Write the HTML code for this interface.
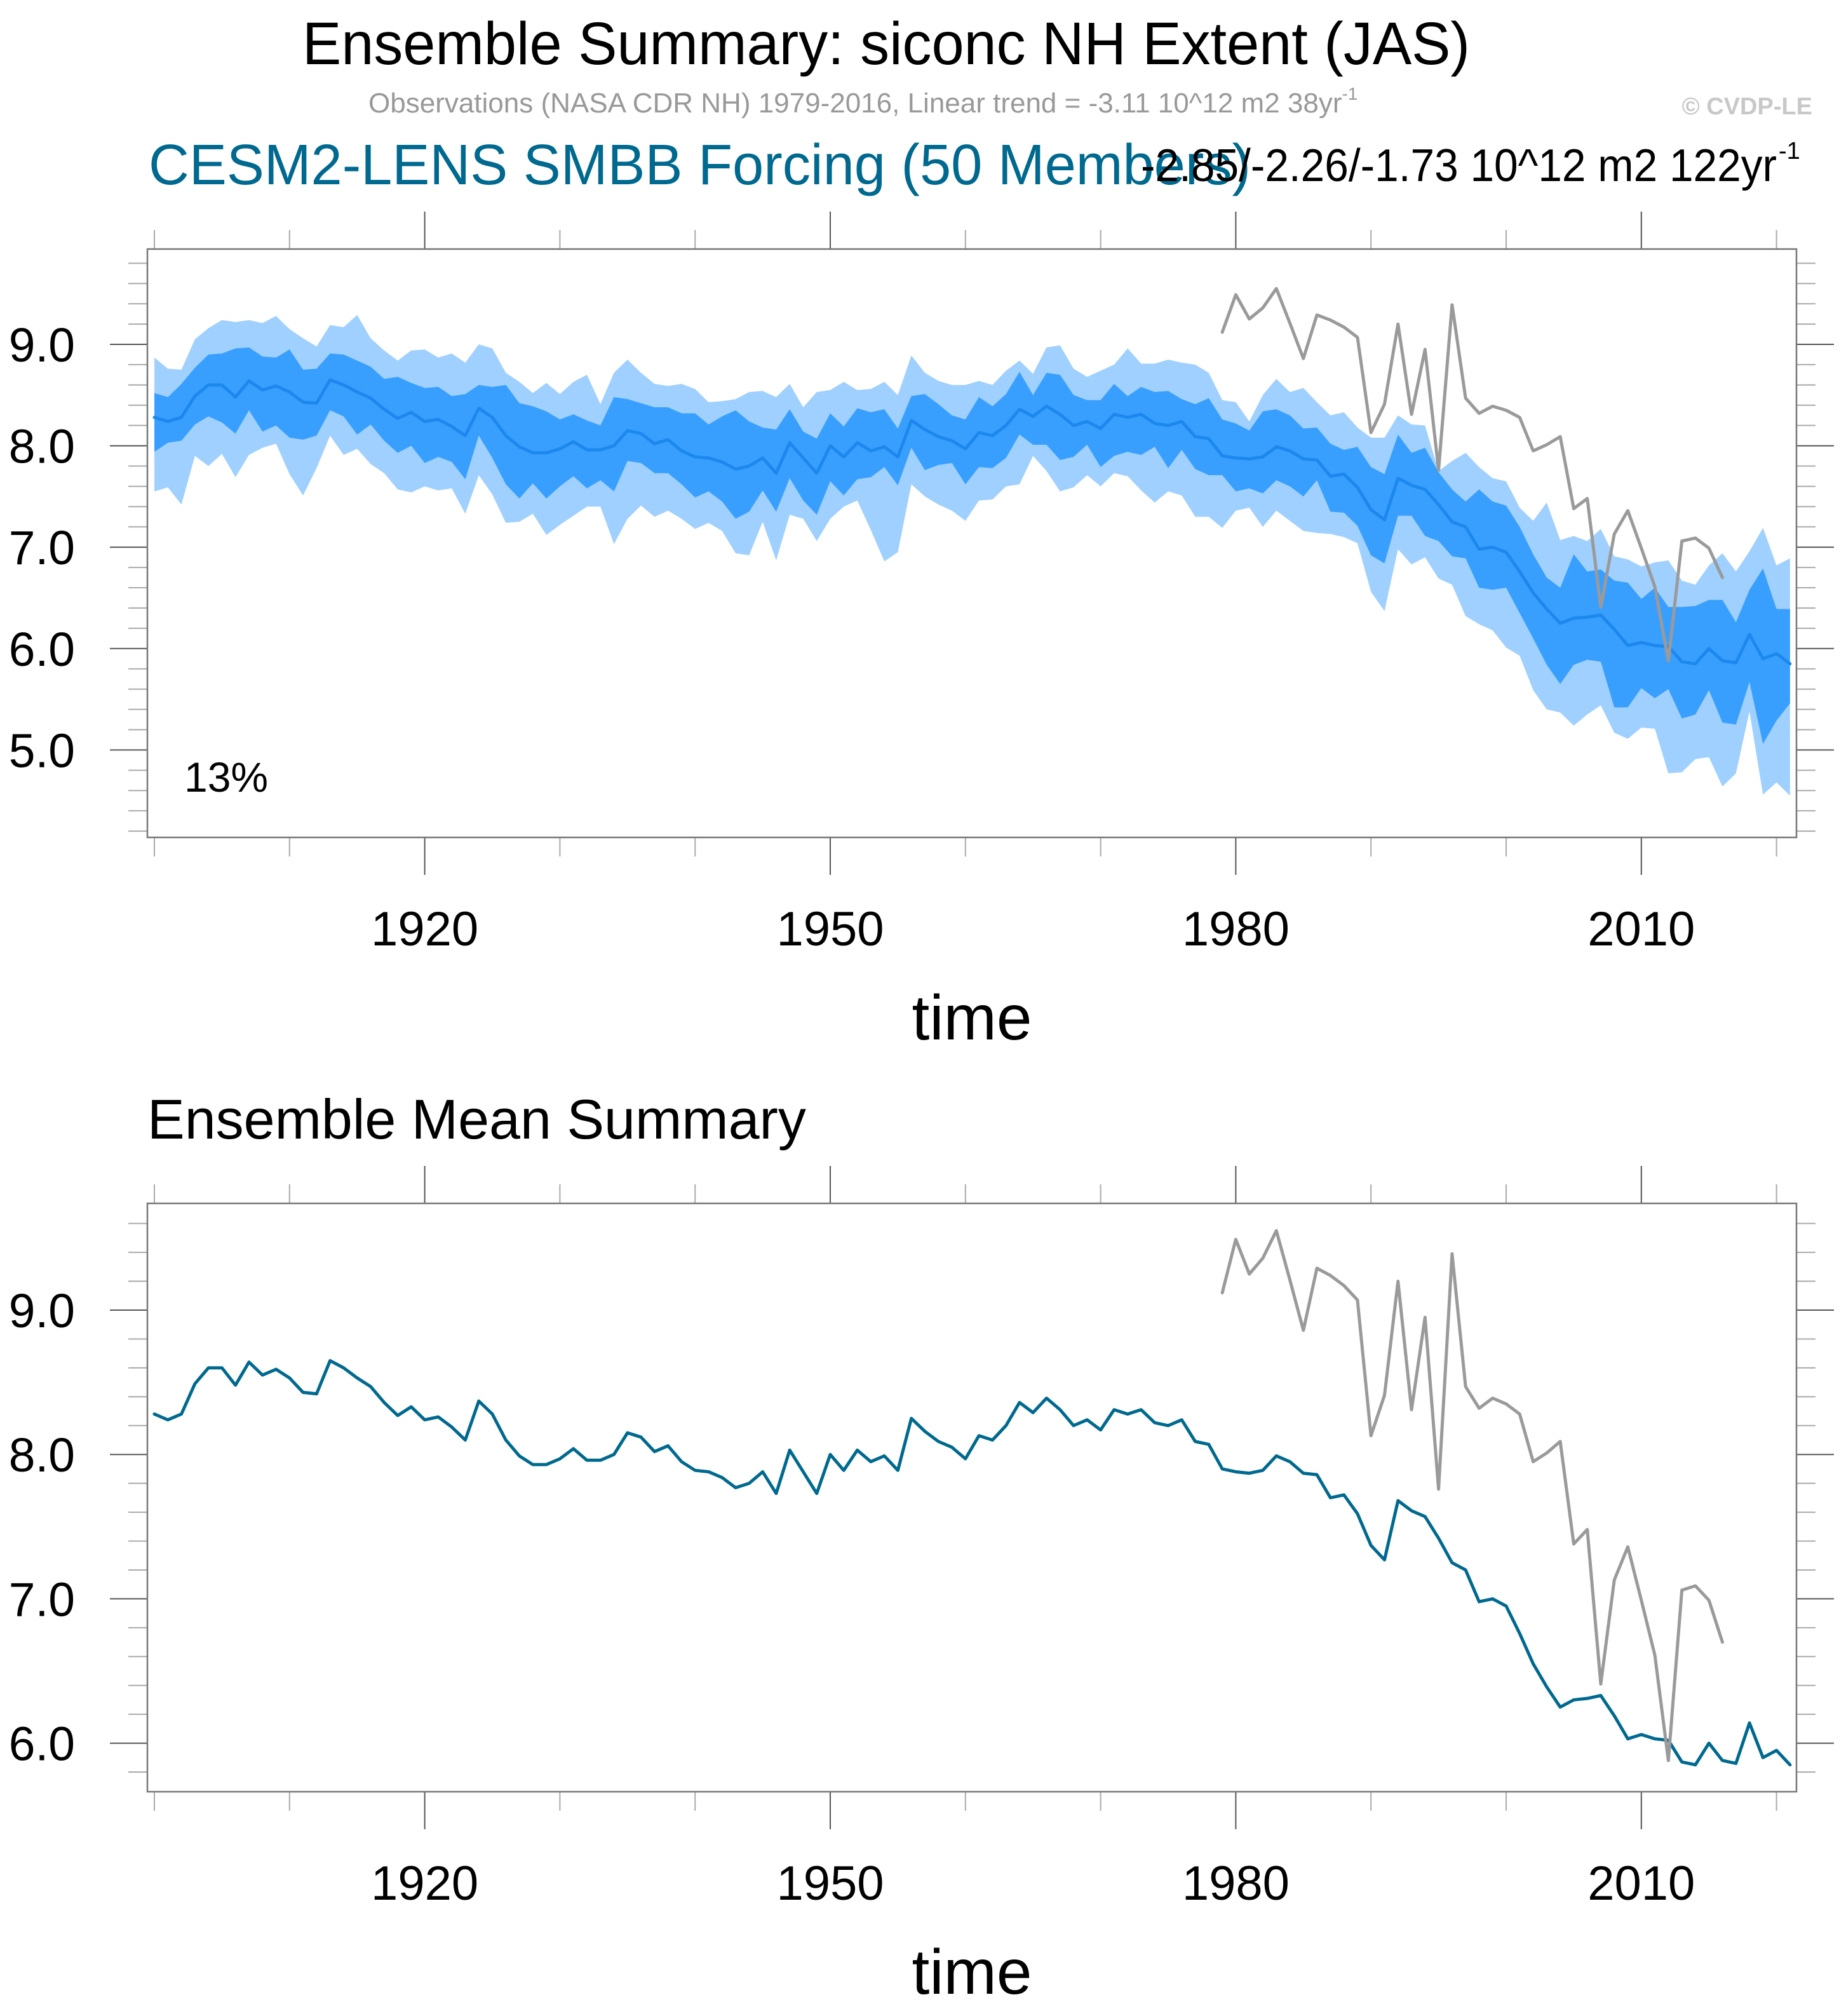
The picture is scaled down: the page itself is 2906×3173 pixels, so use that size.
<!DOCTYPE html>
<html><head><meta charset="utf-8">
<style>html,body{margin:0;padding:0;background:#fff}svg{display:block}</style>
</head><body>
<svg id="chart" xmlns="http://www.w3.org/2000/svg" width="2906" height="3173" viewBox="0 0 2906 3173" font-family="Liberation Sans, Arial, sans-serif">
<rect width="2906" height="3173" fill="#fff"/>
<text x="1395" y="101" font-size="95" text-anchor="middle" textLength="1838" lengthAdjust="spacingAndGlyphs">Ensemble Summary: siconc NH Extent (JAS)</text>
<text x="580" y="177" font-size="44" fill="#999">Observations (NASA CDR NH) 1979-2016, Linear trend = -3.11 10^12 m2 38yr<tspan dy="-20" font-size="28">-1</tspan></text>
<text x="2853" y="180" font-size="38" font-weight="bold" fill="#c8c8c8" text-anchor="end">© CVDP-LE</text>
<text x="234" y="290" font-size="90" fill="#00698f" textLength="1735" lengthAdjust="spacingAndGlyphs">CESM2-LENS SMBB Forcing (50 Members)</text>
<text x="1796" y="285" font-size="72" textLength="1001" lengthAdjust="spacingAndGlyphs">-2.85/-2.26/-1.73 10^12 m2 122yr</text>
<text x="2800" y="250" font-size="38">-1</text>
<text x="232" y="1792" font-size="88">Ensemble Mean Summary</text>
<g id="top"></g>
<g id="bot"></g>
</svg>
<script>
const years0 = 1900;
const hiOuter = [8.87,8.76,8.75,9.05,9.16,9.24,9.22,9.24,9.21,9.28,9.15,9.06,8.98,9.19,9.17,9.29,9.06,8.94,8.84,8.94,8.95,8.87,
8.91,8.82,9.00,8.96,8.72,8.63,8.52,8.62,8.51,8.63,8.70,8.41,8.72,8.85,8.72,8.61,8.59,8.61,8.56,8.43,8.44,8.46,8.53,8.54,8.48,8.61,8.38,8.53,8.55,8.63,
8.55,8.56,8.63,8.50,8.89,8.72,8.64,8.60,8.60,8.64,8.60,8.74,8.84,8.71,8.97,8.99,8.76,8.68,8.74,8.80,8.96,8.81,8.81,8.85,
8.82,8.80,8.72,8.45,8.43,8.24,8.50,8.66,8.53,8.57,8.43,8.30,8.33,8.18,8.08,8.08,8.30,8.21,8.20,7.75,7.85,7.93,7.79,7.68,7.65,7.39,7.26,7.44,7.07,7.11,7.06,7.18,6.91,6.88,6.81,6.85,6.87,6.67,6.63,6.82,6.94,6.76,6.96,7.19,6.82,6.89];
const hiInner = [8.52,8.48,8.61,8.77,8.90,8.91,8.96,8.97,8.88,8.87,8.95,8.75,8.76,8.91,8.90,8.84,8.78,8.66,8.68,8.62,8.57,8.58,
8.49,8.51,8.60,8.58,8.60,8.42,8.39,8.34,8.26,8.31,8.25,8.20,8.48,8.46,8.42,8.38,8.38,8.32,8.32,8.21,8.29,8.35,8.24,8.18,8.16,8.36,8.14,8.07,8.32,8.19,
8.37,8.33,8.36,8.17,8.49,8.51,8.41,8.30,8.26,8.48,8.39,8.51,8.73,8.50,8.72,8.70,8.50,8.45,8.45,8.61,8.49,8.58,8.53,8.54,
8.46,8.41,8.47,8.26,8.22,8.15,8.34,8.36,8.30,8.17,8.18,8.02,7.96,7.99,7.79,7.72,8.11,7.93,7.98,7.74,7.57,7.45,7.57,7.45,7.41,7.20,6.93,6.70,6.60,6.93,6.76,6.78,6.67,6.65,6.49,6.60,6.41,6.41,6.42,6.48,6.48,6.26,6.58,6.79,6.39,6.39];
const loInner = [7.94,8.03,8.05,8.21,8.29,8.23,8.12,8.35,8.14,8.20,8.08,8.06,8.10,8.35,8.29,8.11,8.21,8.05,7.93,8.00,7.83,7.89,
7.84,7.67,8.10,7.88,7.62,7.48,7.63,7.48,7.60,7.70,7.58,7.66,7.55,7.85,7.83,7.73,7.73,7.62,7.49,7.55,7.45,7.28,7.35,7.56,7.35,7.68,7.46,7.32,7.65,7.51,
7.67,7.69,7.79,7.61,7.98,7.76,7.81,7.83,7.62,7.79,7.78,7.88,8.11,8.01,8.01,7.86,7.89,8.01,7.79,7.90,7.94,7.91,7.99,7.78,
7.96,7.77,7.71,7.71,7.55,7.58,7.53,7.66,7.60,7.50,7.66,7.35,7.34,7.21,6.92,6.84,7.31,7.31,7.11,7.06,6.91,6.89,6.60,6.58,6.60,6.35,6.10,5.84,5.65,5.84,5.89,5.87,5.42,5.42,5.61,5.51,5.60,5.31,5.35,5.59,5.27,5.25,5.67,5.06,5.29,5.46];
const loOuter = [7.55,7.59,7.42,7.90,7.80,7.92,7.69,7.91,7.98,8.02,7.72,7.51,7.78,8.10,7.91,7.97,7.82,7.73,7.57,7.54,7.60,7.56,
7.58,7.33,7.71,7.52,7.24,7.25,7.33,7.12,7.22,7.31,7.40,7.40,7.03,7.28,7.41,7.30,7.36,7.28,7.18,7.24,7.16,6.94,6.92,7.25,6.87,7.32,7.28,7.06,7.28,7.40,
7.46,7.17,6.86,6.95,7.62,7.50,7.42,7.36,7.26,7.46,7.47,7.60,7.62,7.90,7.75,7.55,7.59,7.71,7.60,7.73,7.70,7.56,7.44,7.55,
7.51,7.30,7.30,7.19,7.36,7.39,7.20,7.36,7.26,7.16,7.14,7.13,7.10,7.04,6.56,6.37,6.98,6.83,6.90,6.69,6.63,6.32,6.24,6.18,6.01,5.93,5.59,5.40,5.37,5.24,5.35,5.44,5.17,5.11,5.22,5.21,4.77,4.78,4.91,4.93,4.64,4.77,5.38,4.56,4.68,4.55];
const ensMean = [8.28,8.24,8.28,8.49,8.60,8.60,8.48,8.64,8.55,8.59,8.53,8.43,8.42,8.65,8.60,8.53,8.47,8.36,8.27,8.33,8.24,8.26,8.19,8.10,8.37,8.28,8.10,7.99,7.93,7.93,7.97,8.04,7.96,7.96,8.00,8.15,8.12,8.02,8.06,7.95,
7.89,7.88,7.84,7.77,7.80,7.88,7.73,8.03,7.88,7.73,8.00,7.89,8.03,7.95,7.99,7.89,8.25,8.16,8.09,8.05,7.97,8.13,8.10,8.20,8.36,8.29,8.39,8.31,8.20,8.24,8.17,8.31,8.28,8.31,8.22,8.20,8.24,8.09,8.07,7.90,
7.88,7.87,7.89,7.99,7.95,7.87,7.86,7.70,7.72,7.59,7.37,7.27,7.68,7.61,7.57,7.42,7.25,7.20,6.98,7.00,6.95,6.76,6.55,6.39,6.25,6.30,6.31,6.33,6.19,6.03,6.06,6.03,6.02,5.87,5.85,6.00,5.88,5.86,6.14,5.90,5.95,5.85];
const obsStart = 1979;
const obsVals = [9.12,9.49,9.25,9.36,9.55,9.21,8.86,9.29,9.24,9.17,9.07,8.13,8.41,9.20,8.31,8.95,7.76,9.39,8.47,8.32,8.39,8.35,8.28,7.95,8.01,8.09,7.38,7.48,6.41,7.13,7.36,6.99,6.61,5.88,7.06,7.09,6.99,6.70];
const xMajorTicks = [1920,1950,1980,2010];
const yTickLabelsTop = [5,6,7,8,9];
const yTickLabelsBot = [6,7,8,9];

const NS = "http://www.w3.org/2000/svg";
function mk(parent, tag, attrs){const e=document.createElementNS(NS,tag);for(const k in attrs)e.setAttribute(k,attrs[k]);parent.appendChild(e);return e;}
const xs = yr => 243 + 21.28*(yr-1900);

function panel(g, box, y9, ppu, labelSize){
  const ys = v => y9 - (v-9)*ppu;
  const vTop = 9 + (y9-box.top)/ppu, vBot = 9 - (box.bottom-y9)/ppu;
  // x ticks top & bottom
  for(let yr=1900; yr<=2020; yr+=10){
    const maj = xMajorTicks.includes(yr), len = maj?59:30, x = xs(yr);
    const t1 = mk(g,'line',{x1:x,x2:x,y1:box.top,y2:box.top-len,stroke:maj?'#555':'#aaa','stroke-width':2});
     
    const t2 = mk(g,'line',{x1:x,x2:x,y1:box.bottom,y2:box.bottom+len,stroke:maj?'#555':'#aaa','stroke-width':2});
     
    if(maj){
      const l = mk(g,'text',{x:x,y:box.bottom+170,'font-size':76,'text-anchor':'middle'});
      l.textContent = yr;
       
    }
  }
  for(let k=Math.ceil(vBot*5-1e-6); k<=Math.floor(vTop*5+1e-6); k++){
    const v=k/5, maj = Math.abs(v-Math.round(v))<1e-6, len = maj?59:30, y = ys(v);
    const a = mk(g,'line',{x1:box.left,x2:box.left-len,y1:y,y2:y,stroke:maj?'#555':'#aaa','stroke-width':2});
     
    const b = mk(g,'line',{x1:box.right,x2:box.right+len,y1:y,y2:y,stroke:maj?'#555':'#aaa','stroke-width':2});
     
  }
  return ys;
}
function poly(g, topArr, botArr, ys, fill, name){
  let pts=[];
  topArr.forEach((v,i)=>pts.push(xs(years0+i)+','+ys(v)));
  for(let i=botArr.length-1;i>=0;i--) pts.push(xs(years0+i)+','+ys(botArr[i]));
  const p = mk(g,'polygon',{points:pts.join(' '),fill:fill});
   
}
function line(g, arr, start, ys, color, name){
  const pts = arr.map((v,i)=>xs(start+i)+','+ys(v)).join(' ');
  const p = mk(g,'polyline',{points:pts,fill:'none',stroke:color,'stroke-width':5,'stroke-linejoin':'round','stroke-linecap':'round'});
   
}
function frame(g, box, name){
  const r = mk(g,'rect',{x:box.left,y:box.top,width:box.right-box.left,height:box.bottom-box.top,fill:'none',stroke:'#777','stroke-width':2.5});
   
}
function yLabels(g, labels, ys, name){
  labels.forEach(v=>{
    const t = mk(g,'text',{x:118,y:ys(v)+27,'font-size':75,'text-anchor':'end'});
    t.textContent = v.toFixed(1);
     
  });
}
function xTitle(g, box){
  const t = mk(g,'text',{x:(box.left+box.right)/2,y:box.bottom+318,'font-size':100,'text-anchor':'middle'});
  t.textContent='time';
   
}

// top panel
const gT = document.getElementById('top');


const boxT = {left:232,right:2828,top:392,bottom:1318};
const ysT = panel(gT, boxT, 542, 159.6);
poly(gT, hiOuter, loOuter, ysT, '#9fd0ff', 'outer-spread-band');
poly(gT, hiInner, loInner, ysT, '#399ffe', 'inner-spread-band');
line(gT, ensMean, years0, ysT, '#1c88ee', 'ensemble-mean-line');
line(gT, obsVals, obsStart, ysT, '#9a9a9a', 'observations-line');
frame(gT, boxT, 'top-plot-frame');
yLabels(gT, yTickLabelsTop, ysT, 'y-tick-label');
xTitle(gT, boxT);
const pct = mk(gT,'text',{x:290,y:1246,'font-size':66});
pct.textContent='13%';
 

// bottom panel
const gB = document.getElementById('bot');


const boxB = {left:232,right:2828,top:1894,bottom:2820};
const ysB = panel(gB, boxB, 2062, 227.2);
line(gB, ensMean, years0, ysB, '#00698f', 'ensemble-mean-line-bottom');
line(gB, obsVals, obsStart, ysB, '#9a9a9a', 'observations-line-bottom');
frame(gB, boxB, 'bottom-plot-frame');
yLabels(gB, yTickLabelsBot, ysB, 'y-tick-label-bottom');
xTitle(gB, boxB);
</script>
</body></html>
